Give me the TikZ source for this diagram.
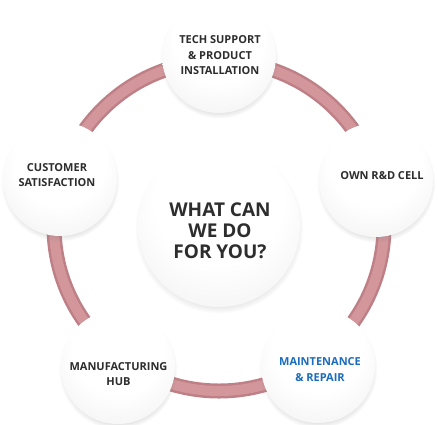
\documentclass[tikz,border=0pt]{standalone}
\usepackage{fontspec}
\setmainfont{Open Sans}
\usetikzlibrary{shadows}
\definecolor{txtgray}{RGB}{45,45,45}
\definecolor{txtblue}{RGB}{26,108,188}
\definecolor{ringdark}{RGB}{190,128,134}
\definecolor{ringlight}{RGB}{210,150,155}
\pgfdeclareradialshading{bubshade}{\pgfpoint{0bp}{12bp}}{color(0bp)=(white); color(20bp)=(white); color(42bp)=(black!7); color(62bp)=(black!22)}
\tikzset{
  bub/.style={circle, inner sep=0pt, shading=bubshade,
    circular drop shadow={shadow xshift=0pt, shadow yshift=-3pt, shadow scale=1.04, opacity=0.3}},
  small/.style={bub, minimum size=114pt},
  big/.style={bub, minimum size=162pt},
  stxt/.style={align=center, text=txtgray, font=\bfseries\fontsize{11pt}{15.5pt}\selectfont},
  btxt/.style={align=center, text=txtgray, font=\bfseries\fontsize{19pt}{21pt}\selectfont},
  ringa/.style={circle, inner sep=0pt, minimum size=330pt, draw=ringdark, line width=15pt},
  ringb/.style={circle, inner sep=0pt, minimum size=330pt, draw=ringlight, line width=10pt}
}
\begin{document}
\begin{tikzpicture}[x=1pt,y=-1pt]
\useasboundingbox (0,0) rectangle (438,424);
\node[ringa] (ring) at (219,226) {};
\node[ringb] (ringhl) at (219,226) {};
\node[big] (c0) at (219,226) {};
\node[small] (c1) at (219,56) {};
\node[small] (c2) at (376,180) {};
\node[small] (c3) at (60,179) {};
\node[small] (c4) at (118,367) {};
\node[small] (c5) at (318,366) {};
\node[btxt] (t0) at (220,231) {WHAT CAN\\WE DO\\FOR YOU?};
\node[stxt] (t1) at (220,55.5) {TECH SUPPORT\\\& PRODUCT\\INSTALLATION};
\node[stxt] (t2) at (382,176) {OWN R\&D CELL};
\node[stxt] (t3) at (57,175) {CUSTOMER\\SATISFACTION};
\node[stxt] (t4) at (118.5,374) {MANUFACTURING\\HUB};
\node[stxt, text=txtblue] (t5) at (320,369.5) {MAINTENANCE\\\& REPAIR};
\end{tikzpicture}
\end{document}
